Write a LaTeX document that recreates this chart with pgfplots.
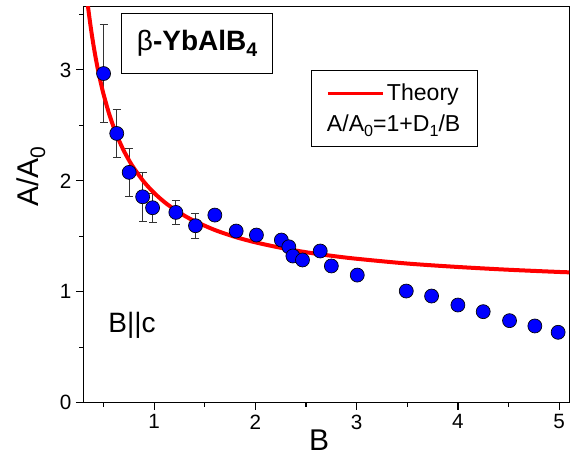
\documentclass[border=0pt]{standalone}
\usepackage{fontspec}
\setmainfont{Liberation Sans}
\usepackage{pgfplots}
\pgfplotsset{compat=1.18}
\usepackage{pgfplotstable}
\usetikzlibrary{calc}

\newcommand{\lsub}[1]{\raisebox{-0.45ex}{\fontsize{0.7em}{0.8em}\selectfont #1}}

\pgfplotstableread{
x y e
0.500 2.967 0.44
0.630 2.427 0.22
0.753 2.076 0.22
0.886 1.856 0.22
0.984 1.757 0.13
1.214 1.715 0.11
1.408 1.595 0.11
}\errdata

\pgfplotstableread{
x y
0.500 2.967
0.630 2.427
0.753 2.076
0.886 1.856
0.984 1.757
1.214 1.715
1.408 1.595
1.599 1.691
1.810 1.547
2.010 1.511
2.256 1.466
2.330 1.405
2.370 1.322
2.465 1.286
2.640 1.367
2.750 1.232
3.006 1.150
3.490 1.006
3.740 0.961
4.000 0.880
4.250 0.820
4.510 0.739
4.760 0.691
4.990 0.634
}\alldata

\pgfplotstableread{
x y
0.325 3.738
0.350 3.543
0.375 3.373
0.400 3.225
0.425 3.094
0.450 2.978
0.475 2.874
0.500 2.780
0.550 2.618
0.600 2.483
0.650 2.369
0.700 2.271
0.750 2.187
0.800 2.113
0.900 1.989
1.000 1.890
1.100 1.809
1.200 1.742
1.300 1.685
1.400 1.636
1.600 1.556
1.800 1.494
2.000 1.445
2.250 1.396
2.500 1.356
2.750 1.324
3.000 1.297
3.500 1.254
4.000 1.223
4.500 1.198
5.000 1.178
5.100 1.175
}\theory

\begin{document}
\begin{tikzpicture}
\begin{axis}[
  name=ax,
  scale only axis,
  width=364.5pt, height=297pt,
  xmin=0.3, xmax=5.1, ymin=0, ymax=3.57,
  xtick={1,2,3,4,5}, ytick={0,1,2,3},
  minor xtick={0.5,1.5,2.5,3.5,4.5},
  minor ytick={0.5,1.5,2.5,3.5},
  xtick pos=left, ytick pos=left,
  tick align=outside,
  major tick length=5.5pt, minor tick length=3pt,
  every tick/.style={black, line width=0.9pt},
  axis line style={line width=1.1pt},
  /pgf/number format/assume math mode=true,
  tick label style={font=\fontsize{15.5}{18}\selectfont},
  xlabel={B}, ylabel={A/A\lsub{0}},
  label style={font=\fontsize{22.5}{26}\selectfont},
  xlabel style={at={(axis description cs:0.485,-0.094)}, anchor=center},
  ylabel style={at={(axis description cs:-0.108,0.571)}, anchor=center},
  legend style={at={(axis description cs:0.4685,0.840)}, anchor=north west,
    draw=black, line width=0.8pt, font=\fontsize{17.3}{20}\selectfont,
    inner xsep=11pt, inner ysep=8pt, row sep=5pt},
  legend cell align=left,
]
\addplot[only marks, mark=none, forget plot,
  error bars/.cd, y dir=both, y explicit,
  error bar style={line width=0.6pt, color=black!80},
  error mark options={rotate=90, mark size=3pt, line width=0.6pt, color=black!80}]
  table[x=x, y=y, y error=e] {\errdata};
\addplot[only marks, mark=*, mark size=5.25pt, forget plot,
  mark options={fill=blue, draw=black, line width=0.5pt}]
  table[x=x, y=y] {\alldata};
\addplot[red, line width=3pt, smooth,
  legend image code/.code={\draw[red, line width=2.6pt] (0pt,0pt) -- (41pt,0pt);}]
  table[x=x, y=y] {\theory};
\addlegendentry{Theory}
\addlegendimage{empty legend}
\addlegendentry{\hspace{-45pt}A/A\lsub{0}=1+D\lsub{1}/B\hspace{5pt}}

\node[draw=black, line width=0.8pt, anchor=north west, minimum width=113.7pt,
  minimum height=45.5pt, inner sep=0pt, font=\fontsize{21}{24}\selectfont]
  at (axis description cs:0.077,0.985) {β\textbf{-YbAlB\lsub{4}}};
\node[anchor=base west, inner sep=0pt, font=\fontsize{21}{24}\selectfont]
  at (axis description cs:0.051,0.176) {B||c};
\end{axis}
\pgfresetboundingbox
\path[use as bounding box] ($(ax.south west)+(-62.5pt,-40.7pt)$) rectangle ($(ax.north east)+(1.3pt,5pt)$);
\end{tikzpicture}
\end{document}
